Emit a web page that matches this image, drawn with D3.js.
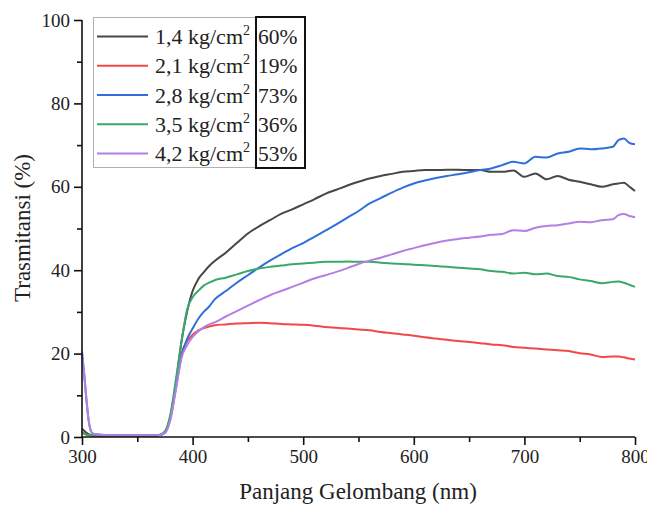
<!DOCTYPE html>
<html>
<head>
<meta charset="utf-8">
<script src="https://cdn.jsdelivr.net/npm/d3@7"></script>
<style>
html,body{margin:0;padding:0;background:#fff;}
svg{display:block;}
text{font-family:"Liberation Serif","Times New Roman",serif;fill:#222;}
</style>
</head>
<body>
<svg id="chart" width="647" height="507"></svg>
<script>
const wavelengths = [300,302,304,306,308,310,320,340,360,370,375,380,385,390,395,400,405,410,415,420,
  430,440,450,460,470,480,490,500,510,520,530,540,550,560,570,580,590,600,610,620,630,640,650,660,670,680,
  690,700,710,720,730,740,750,760,770,780,785,790,795,800];

const s14 = [2.0,1.5,1.0,0.7,0.5,0.4,0.3,0.3,0.3,0.5,1.2,5,13,23,30,35,37.8,39.5,41,42.2,
  44.2,46.5,48.8,50.5,52,53.5,54.6,55.8,57,58.3,59.3,60.3,61.2,62,62.6,63.1,63.6,63.8,64,64,64.1,64.1,64,64,63.6,63.6,
  63.9,62.4,63.2,61.8,62.6,61.7,61.2,60.6,60,60.6,60.8,61,60,59];
const s21 = [1.0,0.8,0.6,0.5,0.4,0.4,0.3,0.3,0.3,0.5,1.3,5,12.5,20,23,24.5,25.5,26.1,26.5,26.8,
  27.0,27.2,27.3,27.4,27.3,27.1,27.0,26.9,26.7,26.4,26.2,26.0,25.8,25.6,25.2,24.9,24.6,24.3,23.9,23.6,23.3,23.0,22.8,22.5,22.2,22.0,
  21.6,21.4,21.2,21.0,20.8,20.6,20.1,19.8,19.2,19.3,19.3,19.1,18.8,18.6];
const s28 = [20.5,15,9,4,1.5,0.8,0.5,0.4,0.4,0.5,1.0,4.5,12,19.5,23.5,26,28.3,30,31.3,33,
  35,37,38.8,40.6,42.3,43.8,45.3,46.5,48,49.5,51,52.6,54.2,56,57.3,58.6,59.8,60.8,61.5,62.1,62.6,63,63.5,64,64.4,65.2,
  66.0,65.6,67.2,67.0,68,68.4,69.2,69.0,69.2,69.6,71.2,71.6,70.5,70.2];
const s35 = [1.2,0.8,0.5,0.4,0.4,0.3,0.3,0.3,0.3,0.5,1.3,5.5,14,23,30.5,33.5,35,36.3,37,37.6,
  38.2,39,39.8,40.4,40.8,41.1,41.4,41.6,41.8,42,42,42.1,42,42,41.8,41.6,41.5,41.3,41.2,41,40.8,40.6,40.4,40.2,39.8,39.6,
  39.2,39.4,39.0,39.2,38.6,38.4,37.8,37.4,36.9,37.2,37.3,37.0,36.5,36];
const s42 = [20,15,9,4,1.5,0.8,0.5,0.4,0.4,0.5,1.0,4.2,11.5,19,22,24,25.3,26.3,27,27.5,
  28.9,30.2,31.5,32.8,34,35,36,37,38,38.8,39.6,40.5,41.5,42.3,43,43.8,44.6,45.3,46,46.6,47.1,47.5,47.8,48.1,48.5,48.7,
  49.6,49.4,50.2,50.6,50.8,51.2,51.6,51.5,52,52.2,53.2,53.5,53,52.7];

const seriesNames = ["1,4 kg/cm","2,1 kg/cm","2,8 kg/cm","3,5 kg/cm","4,2 kg/cm"];
const percentLabels = ["60%","19%","73%","36%","53%"];
const seriesColors = ["#474747","#f24848","#2f6fdb","#3aa86a","#b47fe4"];
const seriesValues = [s14, s21, s28, s35, s42];

const xTicks = [300,400,500,600,700,800];
const yTicks = [0,20,40,60,80,100];

const svg = d3.select("#chart");
const x = d3.scaleLinear().domain([300,800]).range([82,635]);
const y = d3.scaleLinear().domain([0,100]).range([437,20]);

// series lines
const line = d3.line().x(d => x(d[0])).y(d => y(d[1])).curve(d3.curveMonotoneX);
seriesValues.forEach((vals, i) => {
  const pts = wavelengths.map((w, j) => [w, vals[j]]);
  svg.append("path").datum(pts)
    .attr("d", line).attr("fill","none")
    .attr("stroke", seriesColors[i]).attr("stroke-width", 2)
    .attr("stroke-linejoin","round");
});

// axes
const xAxis = d3.axisBottom(x).tickValues(xTicks).tickFormat(d3.format("d")).tickSize(8).tickPadding(5);
const xMinor = d3.axisBottom(x).tickValues(d3.range(350,800,100)).tickFormat("").tickSize(5);
const yAxis = d3.axisLeft(y).tickValues(yTicks).tickFormat(d3.format("d")).tickSize(8).tickPadding(4);
const yMinor = d3.axisLeft(y).tickValues(d3.range(10,100,20)).tickFormat("").tickSize(5);

function styleAxis(g){
  g.select(".domain").attr("stroke","#111").attr("stroke-width",1.6);
  g.selectAll(".tick line").attr("stroke","#111").attr("stroke-width",1.6);
  g.selectAll("text").style("font-family","Liberation Serif, Times New Roman, serif").style("font-size","19px").attr("fill","#222");
}
svg.append("g").attr("transform","translate(0,437)").call(xMinor).call(styleAxis).select(".domain").remove();
svg.append("g").attr("transform","translate(82,0)").call(yMinor).call(styleAxis).select(".domain").remove();
const gx = svg.append("g").attr("transform","translate(0,437)").call(xAxis).call(styleAxis);
gx.select(".domain").attr("d", "M82,0H635");
const gy = svg.append("g").attr("transform","translate(82,0)").call(yAxis).call(styleAxis);
gy.select(".domain").attr("d", "M0,20V437");

// axis titles
svg.append("text").attr("x",358).attr("y",499).attr("text-anchor","middle")
  .style("font-size","23px").text("Panjang Gelombang (nm)");
svg.append("text").attr("transform","translate(30,228) rotate(-90)").attr("text-anchor","middle")
  .style("font-size","23px").text("Trasmitansi (%)");

// legend
const lg = svg.append("g");
lg.append("rect").attr("x",93.5).attr("y",17.5).attr("width",212).attr("height",150)
  .attr("fill","#fff").attr("stroke","#b0b0b0").attr("stroke-width",1);
const rowY = d3.scaleLinear().domain([0,4]).range([36.5,153.5]);
seriesNames.forEach((name, i) => {
  const cy = rowY(i);
  lg.append("line").attr("x1",97).attr("x2",148).attr("y1",cy).attr("y2",cy)
    .attr("stroke",seriesColors[i]).attr("stroke-width",2);
  const t = lg.append("text").attr("x",155).attr("y",cy+7.5).style("font-size","22px");
  t.append("tspan").text(name);
  t.append("tspan").attr("dy",-9).style("font-size","14px").text("2");
  lg.append("text").attr("x",258).attr("y",cy+7.5).style("font-size","21.5px").text(percentLabels[i]);
});
lg.append("rect").attr("x",256).attr("y",17).attr("width",49).attr("height",151)
  .attr("fill","none").attr("stroke","#111").attr("stroke-width",2);
</script>
</body>
</html>
